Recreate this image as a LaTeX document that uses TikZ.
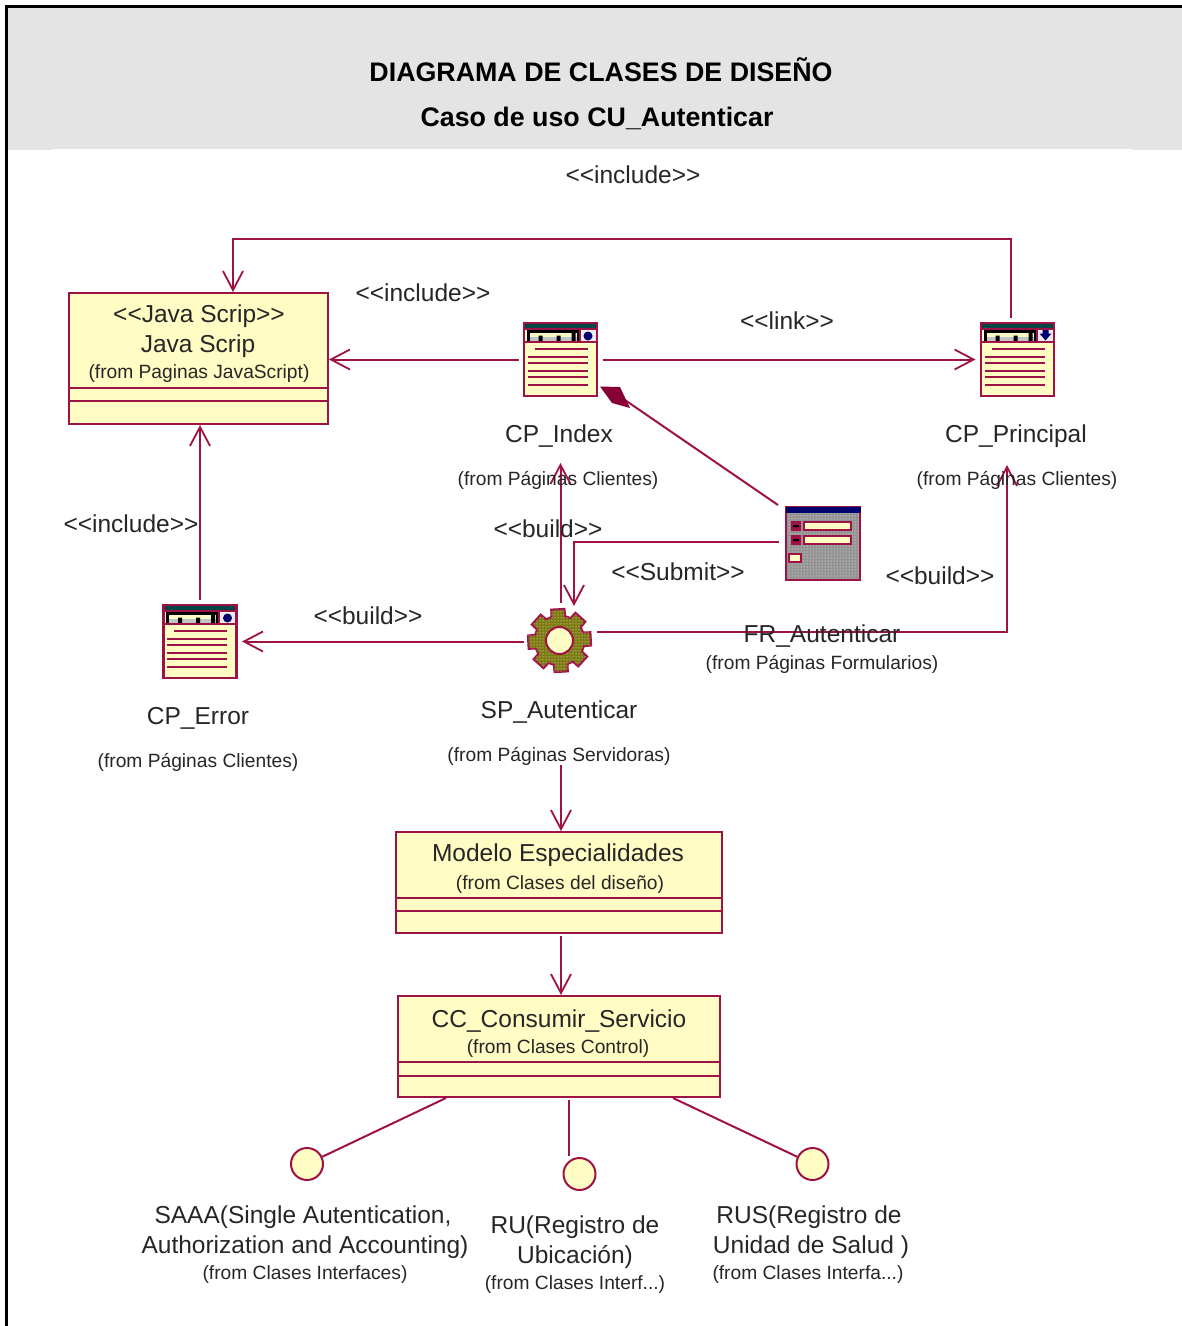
\documentclass[tikz,border=0pt]{standalone}
\usepackage{fontspec}
\setmainfont{Liberation Sans}
\usetikzlibrary{arrows.meta,patterns}
\definecolor{rose}{HTML}{9E1246}
\definecolor{maroon}{HTML}{870036}
\definecolor{cream}{HTML}{FFFCC4}
\definecolor{headgrey}{HTML}{E4E4E4}
\definecolor{olivefill}{HTML}{7C7A10}
\definecolor{toolgrey}{HTML}{C4C4C4}
\definecolor{navyblue}{HTML}{00006E}
\tikzset{
  x=1pt,y=-1pt,
  conn/.style={draw=rose,line width=2pt},
  openarrow/.style={conn,-{Straight Barb[length=19pt,width=20pt,line width=1.8pt]}},
  classbox/.style={draw=rose,fill=cream,line width=2pt,rectangle,inner sep=0pt},
  iconbox/.style={rectangle,minimum width=73pt,minimum height=73pt,inner sep=0pt,outer sep=5.5pt},
  ifacebox/.style={circle,draw=rose,fill=cream,line width=2pt,minimum size=32pt,inner sep=0pt},
  big/.style={font=\fontsize{24.5}{28}\selectfont,text=black!85,inner sep=0pt,yshift=-2pt},
  stereo/.style={font=\fontsize{24.5}{28}\selectfont,text=black!85,inner sep=0pt},
  small/.style={font=\fontsize{19.2}{22}\selectfont,text=black!85,inner sep=0pt,yshift=-2pt},
  heading/.style={font=\fontsize{26.8}{32}\selectfont\bfseries,text=black,inner sep=0pt},
}
\newcommand\pageicon[2]{%
  \begin{scope}[shift={(#1.center)}]
    \fill[cream] (-36.5,-36.5) rectangle (36.5,36.5);
    \fill[teal!55!black] (-36,-36) rectangle (36,-31);
    \fill[black] (-34,-30) rectangle (18,-18);
    \fill[cream] (-31,-27) rectangle (16,-23);
    \fill[toolgrey] (-31,-23) rectangle (16,-19);
    \fill[black] (-22,-24) rectangle (-18,-18) (-4,-24) rectangle (0,-18) (11,-27) rectangle (15,-18);
    \fill[white!85!gray] (20,-30) rectangle (36,-18);
    #2
    \draw[rose,line width=2pt] (19,-31)--(19,-17) (-36,-31)--(36,-31) (-36,-17.5)--(36,-17.5);
    \draw[rose,line width=2.2pt] (-36.5,-36.5) rectangle (36.5,36.5);
    \draw[rose,line width=2pt] (-26,-10.5)--(27,-10.5);
    \foreach \yy in {-2.5,3.5,11.5,17.5,25.5}{\draw[rose,line width=2pt] (-33,\yy)--(27,\yy);}
  \end{scope}}
\newcommand\dotmark{\fill[navyblue] (27.5,-23.5) circle (4.5);}
\newcommand\downmark{\fill[navyblue] (25,-30)--(31,-30)--(31,-26)--(34,-26)--(28,-19)--(22,-26)--(25,-26)--cycle;}
\begin{document}
\begin{tikzpicture}
\useasboundingbox (0,0) rectangle (1182,1326);
\fill[white] (0,0) rectangle (1182,1326);
% header
\fill[headgrey] (8,8) rectangle (1182,149);
\fill[headgrey] (8,149) rectangle (53,150);
\fill[headgrey] (1133,149) rectangle (1182,150);
\draw[black,line width=3pt] (6.5,1326)--(6.5,6.5)--(1182,6.5);
\node[heading] (title1) at (601,70) {DIAGRAMA DE CLASES DE DISEÑO};
\node[heading] (title2) at (597,118) {Caso de uso CU\_Autenticar};

% class boxes
\node[classbox,minimum width=259pt,minimum height=131pt] (java) at (198.5,358.5) {};
\draw[rose,line width=2pt] (69,388)--(328,388) (69,401)--(328,401);
\node[classbox,minimum width=326pt,minimum height=101pt] (modelo) at (559,882.5) {};
\draw[rose,line width=2pt] (396,898)--(722,898) (396,911)--(722,911);
\node[classbox,minimum width=322pt,minimum height=101pt] (cc) at (559,1046.5) {};
\draw[rose,line width=2pt] (398,1062)--(720,1062) (398,1076)--(720,1076);

% icons
\node[iconbox] (index) at (560.5,359.5) {};
\pageicon{index}{\dotmark}
\node[iconbox] (principal) at (1017.5,359.5) {};
\pageicon{principal}{\downmark}
\node[iconbox] (error) at (200,641.5) {};
\pageicon{error}{\dotmark}

\node[rectangle,minimum width=74pt,minimum height=73pt,inner sep=0pt,outer sep=7pt] (form) at (823,543.5) {};
\fill[gray!85] (786,507) rectangle (860,580);
\fill[pattern=dots,pattern color=white] (786,507) rectangle (860,580);
\draw[rose,line width=1.5pt] (786,507) rectangle (860,580);
\fill[navyblue] (785.5,506.5) rectangle (860.5,513);
\draw[rose,fill=cream,line width=1.8pt] (804,522) rectangle (851,530);
\draw[rose,fill=cream,line width=1.8pt] (804,536) rectangle (851,544);
\fill[rose] (791,521) rectangle (801,531) (791,535) rectangle (801,545);
\fill[black] (793,525) rectangle (799,527) (793,539) rectangle (799,541);
\draw[rose,fill=cream,line width=1.6pt] (789,554) rectangle (801,562);

\node[circle,minimum size=64pt,inner sep=0pt,outer sep=4pt] (gear) at (559.5,640.5) {};
\begin{scope}[shift={(gear.center)}]
  \path[fill=olivefill,draw=rose,line width=2pt]
    (-19:25)
    \foreach \a in {0,45,...,315}{
      -- (\a-19:25) -- (\a-15:32) -- (\a+9:32) -- (\a+13:25)
    } -- cycle;
  \path[pattern=dots,pattern color=white]
    (-19:25)
    \foreach \a in {0,45,...,315}{
      -- (\a-19:25) -- (\a-15:32) -- (\a+9:32) -- (\a+13:25)
    } -- cycle;
  \draw[rose,fill=cream,line width=2pt] (0,0) circle (13.5);
\end{scope}

% interfaces
\node[ifacebox] (saaa) at (307,1164) {};
\node[ifacebox] (ru) at (579.5,1174) {};
\node[ifacebox] (rus) at (812.5,1164) {};

% connectors
\draw[openarrow] (index.west) -- (java.east |- index.west);
\draw[openarrow] (index.east) -- (principal.west);
\coordinate (topleft) at (233,239);
\coordinate (topright) at (1010.5,239);
\draw[openarrow] ([xshift=-7pt]principal.north) -- (topright) -- (topleft) -- (topleft |- java.north);
\draw[openarrow] (error.north) -- (error.north |- java.south);
\draw[openarrow] (gear.west |- error.east) -- (error.east);
\coordinate (subcorner) at (574,542);
\draw[openarrow] (form.west |- subcorner) -- (subcorner) -- (574,606);
\coordinate (indexin) at (560.5,463);
\draw[openarrow] (560.5,603) -- (indexin);
\coordinate (spcorner) at (1007,632);
\coordinate (princin) at (1007,465);
\draw[openarrow] (597,632) -- (spcorner) -- (princin);
\coordinate (spout) at (561,765);
\draw[openarrow] (spout) -- (561,831);
\draw[openarrow] (561,936) -- (561,995);
\draw[conn] (form.north west) ++(-1,5) -- (622,398);
\fill[maroon] (600,386.5) -- (620,387) -- (630,408) -- (612,403) -- cycle;
\draw[conn] (446,1098) -- (saaa);
\draw[conn] (568.5,1100) -- (568.5,1156);
\draw[conn] (673,1098) -- (rus);

% texts in boxes
\node[big] (j1) at (199,314) {<{}<Java Scrip>{}>};
\node[big] (j2) at (198,344) {Java Scrip};
\node[small] (j3) at (199,372) {(from Paginas JavaScript)};
\node[big] (m1) at (558,853) {Modelo Especialidades};
\node[small] (m2) at (560,883) {(from Clases del diseño)};
\node[big] (c1) at (559,1019) {CC\_Consumir\_Servicio};
\node[small] (c2) at (558,1047) {(from Clases Control)};

% labels
\node[big] (l1) at (559,434) {CP\_Index};
\node[small] (l2) at (558,478) {(from Páginas Clientes)};
\node[big] (l3) at (1016,434) {CP\_Principal};
\node[small] (l4) at (1017,478) {(from Páginas Clientes)};
\node[big] (l5) at (198,716) {CP\_Error};
\node[small] (l6) at (198,760) {(from Páginas Clientes)};
\node[big] (l7) at (559,710) {SP\_Autenticar};
\node[small] (l8) at (559,754) {(from Páginas Servidoras)};
\node[big] (l9) at (822,634) {FR\_Autenticar};
\node[small] (l10) at (822,662) {(from Páginas Formularios)};
\node[stereo] (s1) at (633,175) {<{}<include>{}>};
\node[stereo] (s2) at (423,293) {<{}<include>{}>};
\node[stereo] (s3) at (131,524) {<{}<include>{}>};
\node[stereo] (s4) at (787,321) {<{}<link>{}>};
\node[stereo] (s5) at (548,529) {<{}<build>{}>};
\node[stereo] (s6) at (368,616) {<{}<build>{}>};
\node[stereo] (s7) at (940,576) {<{}<build>{}>};
\node[stereo] (s8) at (678,572) {<{}<Submit>{}>};
\node[big] (i1) at (303,1215) {SAAA(Single Autentication,};
\node[big] (i2) at (305,1245) {Authorization and Accounting)};
\node[small] (i3) at (305,1273) {(from Clases Interfaces)};
\node[big] (i4) at (575,1225) {RU(Registro de};
\node[big] (i5) at (575,1255) {Ubicación)};
\node[small] (i6) at (575,1283) {(from Clases Interf...)};
\node[big] (i7) at (809,1215) {RUS(Registro de};
\node[big] (i8) at (811,1245) {Unidad de Salud )};
\node[small] (i9) at (808,1273) {(from Clases Interfa...)};
\end{tikzpicture}
\end{document}
